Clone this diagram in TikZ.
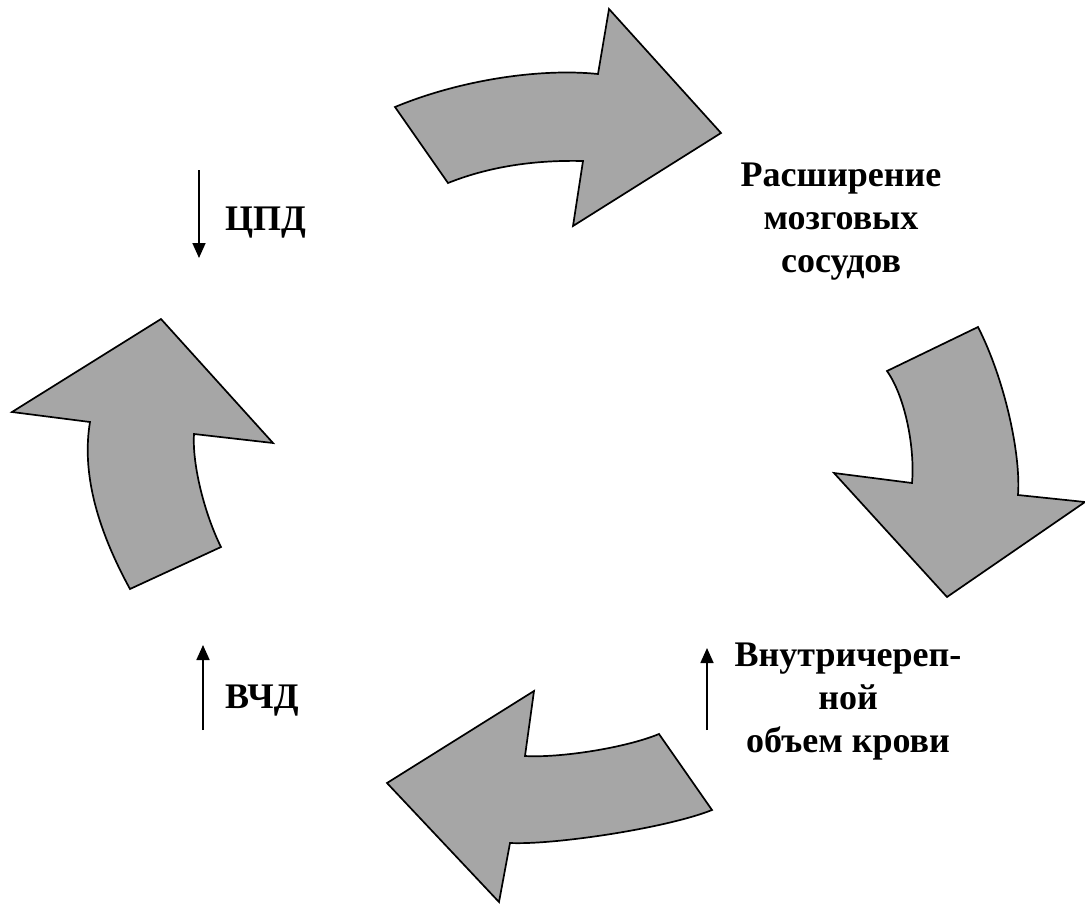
\documentclass[tikz,border=0pt]{standalone}
\usepackage{fontspec}
\setmainfont{Liberation Serif}
\usetikzlibrary{arrows.meta}
\definecolor{arrowgray}{RGB}{166,166,166}
\begin{document}
\begin{tikzpicture}[x=1pt,y=-1pt,
  blockarrow/.style={fill=arrowgray, draw=black, line width=1.7pt, line join=miter},
  lbl/.style={font=\fontsize{36}{43}\selectfont\bfseries, inner sep=0pt, align=center},
  vline/.style={line width=1.7pt, -{Triangle[width=13pt,length=15pt]}}
]
\useasboundingbox (0,0) rectangle (1085,903);

% curved block arrows
\draw[blockarrow] (395,107) -- (448,183) .. controls (493,165) and (540,160) .. (583,161)
  -- (573,226) -- (721,133) -- (609,9) -- (598,74)
  .. controls (540,68) and (460,80) .. (395,107) -- cycle;
\draw[blockarrow] (887,371) -- (978,327) .. controls (1005,380) and (1021,455) .. (1018,495)
  -- (1085,502) -- (947,597) -- (834,473) -- (912,483)
  .. controls (915,450) and (906,398) .. (887,371) -- cycle;
\draw[blockarrow] (659,734) -- (712,810) .. controls (667,828) and (555,845) .. (510,843)
  -- (499,902) -- (387,783) -- (534,691) -- (525,756)
  .. controls (560,758) and (625,748) .. (659,734) -- cycle;
\draw[blockarrow] (130,589) -- (221,547) .. controls (205,515) and (192,465) .. (194,434)
  -- (273,443) -- (161,319) -- (12,412) -- (90,422)
  .. controls (82,470) and (95,525) .. (130,589) -- cycle;

% labels
\node[lbl, anchor=north] (dil) at (841,163) {Расширение\\мозговых\\сосудов};
\node[lbl, anchor=north] (vol) at (848,643) {Внутричереп-\\ной\\объем крови};
\node[lbl, anchor=base west] (cpd) at (225,230) {ЦПД};
\node[lbl, anchor=base west] (icp) at (225,708) {ВЧД};

% small arrows
\coordinate (cpdA) at (199,170); \coordinate (cpdB) at (199,258);
\draw[vline] (cpdA) -- (cpdB);
\coordinate (icpA) at (203,730); \coordinate (icpB) at (203,645);
\draw[vline] (icpA) -- (icpB);
\coordinate (volA) at (707,730); \coordinate (volB) at (707,648);
\draw[vline] (volA) -- (volB);
\end{tikzpicture}
\end{document}
